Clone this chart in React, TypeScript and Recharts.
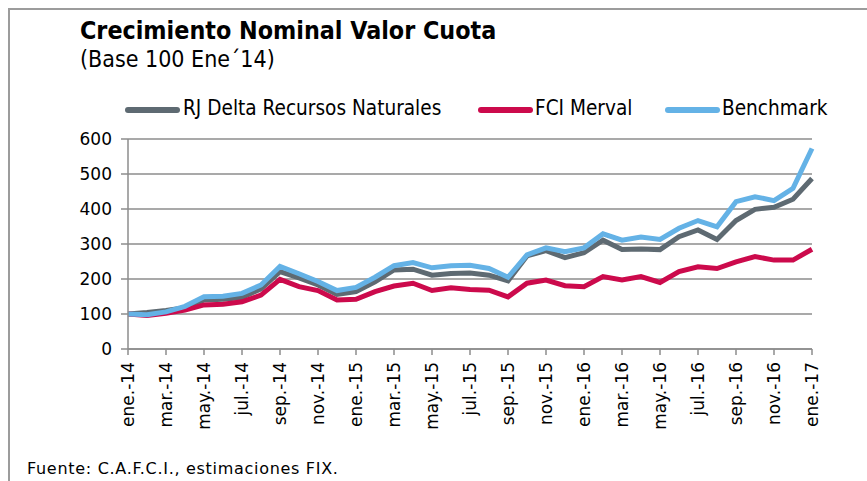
import { CartesianGrid, Line, LineChart, XAxis, YAxis } from "recharts";

const months = [
  "ene.-14", "feb.-14", "mar.-14", "abr.-14", "may.-14", "jun.-14",
  "jul.-14", "ago.-14", "sep.-14", "oct.-14", "nov.-14", "dic.-14",
  "ene.-15", "feb.-15", "mar.-15", "abr.-15", "may.-15", "jun.-15",
  "jul.-15", "ago.-15", "sep.-15", "oct.-15", "nov.-15", "dic.-15",
  "ene.-16", "feb.-16", "mar.-16", "abr.-16", "may.-16", "jun.-16",
  "jul.-16", "ago.-16", "sep.-16", "oct.-16", "nov.-16", "dic.-16",
  "ene.-17",
];

const rjDelta = [
  100, 104, 110, 118, 140, 142, 147, 172, 221, 203, 183, 156, 164,
  192, 226, 228, 211, 216, 217, 211, 195, 266, 281, 261, 275, 311,
  284, 286, 284, 321, 340, 313, 367, 399, 405, 428, 487,
];

const fciMerval = [
  100, 96, 102, 111, 126, 128, 135, 154, 199, 178, 167, 140, 142,
  164, 180, 188, 167, 175, 170, 168, 149, 188, 197, 181, 178, 207,
  197, 207, 190, 221, 235, 230, 249, 264, 254, 254, 285,
];

const benchmark = [
  100, 98, 106, 122, 149, 151, 159, 183, 236, 215, 193, 167, 176,
  205, 238, 247, 232, 238, 239, 230, 205, 269, 289, 278, 289, 329,
  311, 320, 313, 345, 367, 349, 421, 435, 424, 459, 573,
];

const yTicks = [0, 100, 200, 300, 400, 500, 600];

const series = [
  { key: "rj", name: "RJ Delta Recursos Naturales", color: "#5e6a72" },
  { key: "fci", name: "FCI Merval", color: "#cc0a4c" },
  { key: "bench", name: "Benchmark", color: "#64b2e6" },
];

const data = months.map((m, i) => ({
  month: m,
  rj: rjDelta[i],
  fci: fciMerval[i],
  bench: benchmark[i],
}));

const axisColor = "#8c8c8c";
const tickFont = "'DejaVu Sans', Verdana, sans-serif";
const titleFont = "'DejaVu Sans Condensed', 'DejaVu Sans', sans-serif";

function MonthTick(props: any) {
  const { x, y, payload } = props;
  return (
    <text
      x={x}
      y={y}
      transform={`rotate(-90, ${x}, ${y})`}
      textAnchor="end"
      dominantBaseline="central"
      fontSize={17}
      fontFamily={tickFont}
      fill="#000"
    >
      {payload.value}
    </text>
  );
}

const legendPos = [
  { line: 125, text: 183 },
  { line: 478, text: 535 },
  { line: 665, text: 722 },
];

export default function App() {
  return (
    <div
      style={{
        position: "absolute",
        left: 0,
        top: 0,
        width: 867,
        height: 481,
        background: "#fff",
        overflow: "hidden",
      }}
    >
      <div
        style={{
          position: "absolute",
          left: 8,
          top: 8,
          right: 0,
          bottom: 0,
          borderTop: "2px solid #9c9c9c",
          borderLeft: "2px solid #9c9c9c",
        }}
      />
      <div
        style={{
          position: "absolute",
          left: 80,
          top: 16,
          fontFamily: titleFont,
          fontWeight: "bold",
          fontSize: 24.8,
          color: "#000",
          whiteSpace: "nowrap",
        }}
      >
        Crecimiento Nominal Valor Cuota
      </div>
      <div
        style={{
          position: "absolute",
          left: 80,
          top: 46,
          fontFamily: titleFont,
          fontSize: 23,
          color: "#000",
          whiteSpace: "nowrap",
        }}
      >
        (Base 100 Ene´14)
      </div>

      {series.map((s, i) => (
        <div key={s.key}>
          <div
            style={{
              position: "absolute",
              left: legendPos[i].line,
              top: 107,
              width: 55,
              height: 6,
              borderRadius: 3,
              background: s.color,
            }}
          />
          <div
            style={{
              position: "absolute",
              left: legendPos[i].text,
              top: 96,
              fontFamily: titleFont,
              fontSize: 20.6,
              color: "#000",
              whiteSpace: "nowrap",
            }}
          >
            {s.name}
          </div>
        </div>
      ))}

      <div style={{ position: "absolute", left: 0, top: 0 }}>
        <LineChart
          width={867}
          height={481}
          data={data}
          margin={{ top: 139, right: 55, bottom: 0, left: 0 }}
        >
          <CartesianGrid
            vertical={false}
            stroke={axisColor}
            strokeWidth={1.5}
          />
          <XAxis
            dataKey="month"
            interval={1}
            height={132}
            tick={<MonthTick />}
            tickSize={6}
            tickMargin={7}
            stroke={axisColor}
            strokeWidth={1.5}
            tickLine={{ stroke: axisColor, strokeWidth: 1.5 }}
          />
          <YAxis
            domain={[0, 600]}
            ticks={yTicks}
            width={128}
            tickSize={7}
            tickMargin={9}
            stroke={axisColor}
            strokeWidth={1.5}
            tick={{ fill: "#000", fontSize: 17, fontFamily: tickFont }}
          />
          {series.map((s) => (
            <Line
              key={s.key}
              dataKey={s.key}
              name={s.name}
              stroke={s.color}
              strokeWidth={5}
              dot={false}
              isAnimationActive={false}
            />
          ))}
        </LineChart>
      </div>

      <div
        style={{
          position: "absolute",
          left: 27,
          top: 459,
          fontFamily: tickFont,
          fontSize: 16,
          letterSpacing: 0.7,
          color: "#000",
          whiteSpace: "nowrap",
        }}
      >
        Fuente: C.A.F.C.I., estimaciones FIX.
      </div>
    </div>
  );
}
